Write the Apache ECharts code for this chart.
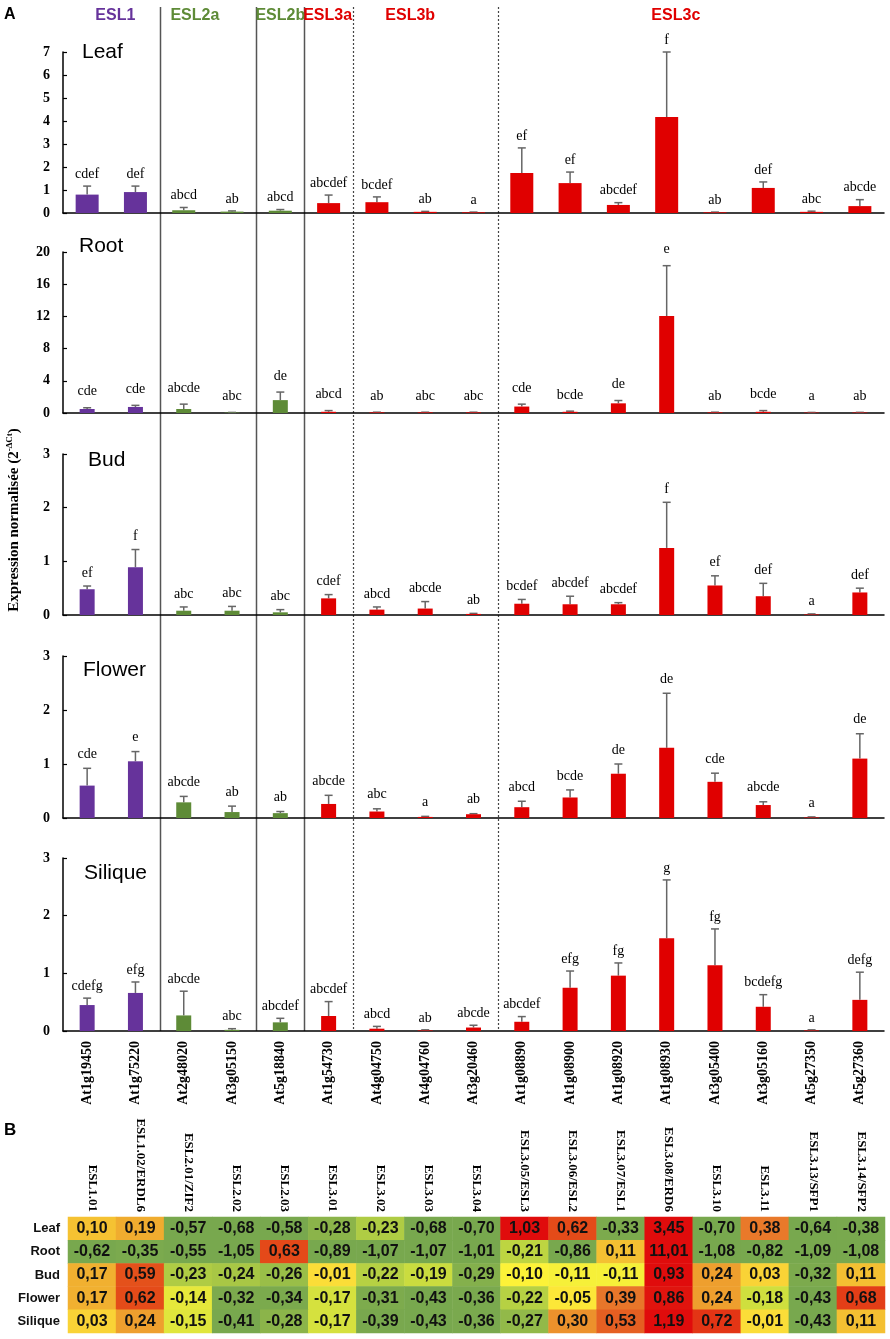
<!DOCTYPE html>
<html>
<head>
<meta charset="utf-8">
<script src="https://cdn.jsdelivr.net/npm/echarts@6/dist/echarts.min.js"></script>
<style>
  html, body { margin: 0; padding: 0; background: #fff; }
  #main { width: 890px; height: 1339px; }
</style>
</head>
<body>
<div id="main"></div>
<script>
// genes (x categories) and their families
const genes = ['At1g19450','At1g75220','At2g48020','At3g05150','At5g18840','At1g54730','At4g04750','At4g04760','At3g20460',
  'At1g08890','At1g08900','At1g08920','At1g08930','At3g05400','At3g05160','At5g27350','At5g27360'];
const eslNames = ['ESL1.01','ESL1.02/ERDL6','ESL2.01/ZIF2','ESL2.02','ESL2.03','ESL3.01','ESL3.02','ESL3.03','ESL3.04',
  'ESL3.05/ESL3','ESL3.06/ESL2','ESL3.07/ESL1','ESL3.08/ERD6','ESL3.10','ESL3.11','ESL3.13/SFP1','ESL3.14/SFP2'];
const groupNames = ['ESL1','ESL2a','ESL2b','ESL3a','ESL3b','ESL3c'];
const geneGroup = [0,0,1,1,2,3,4,4,4,5,5,5,5,5,5,5,5];
const sepAfter = [1,3,4,5,8];
const sepSolid = [true,true,true,false,false];

const tissues = ['Leaf','Root','Bud','Flower','Silique'];
const yMax = [7,20,3,3,3];
const yStep = [1,4,1,1,1];

// panel A : mean and sd (2^-dCt)
const leafMean = [0.80,0.91,0.12,0.06,0.10,0.43,0.47,0.05,0.03,1.74,1.30,0.35,4.17,0.03,1.09,0.05,0.30];
const leafSd   = [0.37,0.26,0.12,0.03,0.05,0.35,0.23,0.02,0.01,1.09,0.48,0.10,2.83,0.01,0.26,0.03,0.28];
const leafLetters = ['cdef','def','abcd','ab','abcd','abcdef','bcdef','ab','a','ef','ef','abcdef','f','ab','def','abc','abcde'];

const rootMean = [0.50,0.75,0.50,0.05,1.60,0.15,0.08,0.08,0.08,0.80,0.15,1.20,12.05,0.08,0.15,0.05,0.06];
const rootSd   = [0.15,0.20,0.60,0.02,1.00,0.15,0.02,0.02,0.02,0.30,0.08,0.35,6.25,0.02,0.15,0.02,0.02];
const rootLetters = ['cde','cde','abcde','abc','de','abcd','ab','abc','abc','cde','bcde','de','e','ab','bcde','a','ab'];

const budMean = [0.48,0.89,0.08,0.08,0.05,0.31,0.10,0.12,0.02,0.21,0.20,0.20,1.25,0.55,0.35,0.01,0.42];
const budSd   = [0.06,0.33,0.07,0.08,0.05,0.07,0.05,0.13,0.01,0.08,0.15,0.03,0.85,0.18,0.24,0.01,0.08];
const budLetters = ['ef','f','abc','abc','abc','cdef','abcd','abcde','ab','bcdef','abcdef','abcdef','f','ef','def','a','def'];

const flowerMean = [0.60,1.05,0.29,0.11,0.09,0.26,0.12,0.02,0.07,0.20,0.38,0.82,1.30,0.67,0.24,0.01,1.10];
const flowerSd   = [0.32,0.18,0.11,0.11,0.03,0.16,0.05,0.01,0.01,0.11,0.14,0.18,1.01,0.16,0.06,0.01,0.46];
const flowerLetters = ['cde','e','abcde','ab','ab','abcde','abc','a','ab','abcd','bcde','de','de','cde','abcde','a','de'];

const siliqueMean = [0.45,0.66,0.27,0.02,0.15,0.26,0.04,0.01,0.06,0.16,0.75,0.96,1.61,1.14,0.42,0.01,0.54];
const siliqueSd   = [0.12,0.19,0.42,0.02,0.07,0.25,0.04,0.01,0.04,0.09,0.29,0.22,1.01,0.63,0.21,0.01,0.48];
const siliqueLetters = ['cdefg','efg','abcde','abc','abcdef','abcdef','abcd','ab','abcde','abcdef','efg','fg','g','fg','bcdefg','a','defg'];

// panel B : heatmap values (rows = tissues)
const heatLeaf    = [0.10,0.19,-0.57,-0.68,-0.58,-0.28,-0.23,-0.68,-0.70,1.03,0.62,-0.33,3.45,-0.70,0.38,-0.64,-0.38];
const heatRoot    = [-0.62,-0.35,-0.55,-1.05,0.63,-0.89,-1.07,-1.07,-1.01,-0.21,-0.86,0.11,11.01,-1.08,-0.82,-1.09,-1.08];
const heatBud     = [0.17,0.59,-0.23,-0.24,-0.26,-0.01,-0.22,-0.19,-0.29,-0.10,-0.11,-0.11,0.93,0.24,0.03,-0.32,0.11];
const heatFlower  = [0.17,0.62,-0.14,-0.32,-0.34,-0.17,-0.31,-0.43,-0.36,-0.22,-0.05,0.39,0.86,0.24,-0.18,-0.43,0.68];
const heatSilique = [0.03,0.24,-0.15,-0.41,-0.28,-0.17,-0.39,-0.43,-0.36,-0.27,0.30,0.53,1.19,0.72,-0.01,-0.43,0.11];

const means = [leafMean, rootMean, budMean, flowerMean, siliqueMean];
const sds = [leafSd, rootSd, budSd, flowerSd, siliqueSd];
const letters = [leafLetters, rootLetters, budLetters, flowerLetters, siliqueLetters];
const heatRows = [heatLeaf, heatRoot, heatBud, heatFlower, heatSilique];

// layout / style
const groupColors = ['#66339b','#5e8b37','#5e8b37','#e00000','#e00000','#e00000'];
const groupShift = [4,-13,0,-1,-15,-15];
const panelTop = [52,252,454,656,858];
const panelHeight = [161,161,161,162,173];
const barWidth = [23,15,15,15,15];
const letterGap = [12,16,13,14,12];
const titlePos = [[82,52],[79,246],[88,460],[83,670],[84,873]];
const serif = "'Liberation Serif','Times New Roman',serif";
const sans = "'Liberation Sans',Arial,sans-serif";

const chart = echarts.init(document.getElementById('main'));

const grids = [], xAxes = [], yAxes = [], series = [];
tissues.forEach(function (t, k) {
  const last = k === tissues.length - 1;
  grids.push({ left: 63, width: 821, top: panelTop[k], height: panelHeight[k] });
  xAxes.push({
    type: 'category', gridIndex: k, data: genes,
    axisLine: { lineStyle: { color: '#000', width: 1.5 } },
    axisTick: { inside: true, length: 4, lineStyle: { color: '#000', width: 1.2 } },
    axisLabel: { show: last, rotate: 90, margin: 10, interval: 0, color: '#000',
      fontFamily: serif, fontWeight: 'bold', fontSize: 14 }
  });
  yAxes.push({
    type: 'value', gridIndex: k, min: 0, max: yMax[k], interval: yStep[k],
    splitLine: { show: false },
    axisLine: { show: true, lineStyle: { color: '#000', width: 1.5 } },
    axisTick: { show: true, inside: true, length: 4, lineStyle: { color: '#000', width: 1.2 } },
    axisLabel: { margin: 13, color: '#000', fontFamily: serif, fontWeight: 'bold', fontSize: 14 }
  });
  series.push({
    type: 'bar', xAxisIndex: k, yAxisIndex: k, barWidth: barWidth[k],
    data: means[k].map(function (v, i) { return { value: v, itemStyle: { color: groupColors[geneGroup[i]] } }; }),
    silent: true, animation: false
  });
  series.push({
    type: 'custom', xAxisIndex: k, yAxisIndex: k, animation: false, silent: true,
    data: means[k].map(function (v, i) { return [i, v, sds[k][i]]; }),
    renderItem: function (params, api) {
      const i = api.value(0);
      const base = api.coord([i, api.value(1)]);
      const top = api.coord([i, api.value(1) + api.value(2)]);
      const x = base[0];
      return {
        type: 'group',
        children: [
          { type: 'line', shape: { x1: x, y1: base[1], x2: x, y2: top[1] },
            style: { stroke: '#666', lineWidth: 1.5 } },
          { type: 'line', shape: { x1: x - 4, y1: top[1], x2: x + 4, y2: top[1] },
            style: { stroke: '#666', lineWidth: 1.5 } },
          { type: 'text', style: { text: letters[k][params.dataIndex], x: x, y: top[1] - letterGap[k],
            align: 'center', verticalAlign: 'middle', fontFamily: serif, fontSize: 14, fill: '#000' } }
        ]
      };
    }
  });
});

// heatmap
const hk = tissues.length;
grids.push({ left: 68, width: 817, top: 1217, height: 116 });
xAxes.push({
  type: 'category', gridIndex: hk, data: eslNames, position: 'top',
  axisLine: { show: false }, axisTick: { show: false }, splitLine: { show: false },
  axisLabel: { rotate: 90, margin: 5, interval: 0, color: '#000', fontFamily: serif, fontWeight: 'bold', fontSize: 13 }
});
yAxes.push({
  type: 'category', gridIndex: hk, data: tissues, inverse: true,
  axisLine: { show: false }, axisTick: { show: false }, splitLine: { show: false },
  axisLabel: { margin: 8, color: '#111', fontFamily: sans, fontWeight: 'bold', fontSize: 13 }
});
const heatData = [];
heatRows.forEach(function (row, r) {
  row.forEach(function (v, c) { heatData.push([c, r, v]); });
});
series.push({
  type: 'heatmap', xAxisIndex: hk, yAxisIndex: hk, data: heatData, animation: false,
  label: { show: true, color: '#111', fontFamily: sans, fontWeight: 'bold', fontSize: 16,
    formatter: function (p) { return p.value[2].toFixed(2).replace('.', ','); } }
});

chart.setOption({
  animation: false,
  grid: grids, xAxis: xAxes, yAxis: yAxes, series: series,
  visualMap: {
    type: 'continuous', show: false, seriesIndex: series.length - 1, dimension: 2,
    min: -0.4, max: 0.9,
    inRange: { color: ['#78a84e','#7dab4d','#c4da40','#fcf238','#fbdb38','#f5c232','#efa92f',
      '#ec912c','#e8732a','#e66626','#e44f1a','#e33a16','#e12010','#e00c0c'] }
  }
});

// separators, group labels and panel titles placed from the axis scale
const cx = genes.map(function (g, i) { return chart.convertToPixel({ xAxisIndex: 0 }, i); });
const yEnd = chart.convertToPixel({ yAxisIndex: hk - 1 }, 0);
const graphic = [];
sepAfter.forEach(function (i, n) {
  const x = Math.round((cx[i] + cx[i + 1]) / 2) + 0.5;
  graphic.push({ type: 'line', silent: true,
    shape: { x1: x, y1: 7, x2: x, y2: yEnd },
    style: { stroke: sepSolid[n] ? '#555' : '#444', lineWidth: sepSolid[n] ? 1.5 : 1.2,
      lineDash: sepSolid[n] ? null : [2, 2] } });
});
groupNames.forEach(function (name, g) {
  const idx = [];
  geneGroup.forEach(function (gg, i) { if (gg === g) idx.push(cx[i]); });
  const x = (Math.min.apply(null, idx) + Math.max.apply(null, idx)) / 2 + groupShift[g];
  graphic.push({ type: 'text', silent: true,
    style: { text: name, x: x, y: 16, align: 'center', verticalAlign: 'middle',
      fontFamily: sans, fontWeight: 'bold', fontSize: 16, fill: groupColors[g] } });
});
tissues.forEach(function (t, k) {
  graphic.push({ type: 'text', silent: true,
    style: { text: t, x: titlePos[k][0], y: titlePos[k][1], align: 'left', verticalAlign: 'middle',
      fontFamily: sans, fontSize: 21, fill: '#000' } });
});
graphic.push({ type: 'text', silent: true,
  style: { text: 'A', x: 4, y: 15, verticalAlign: 'middle', fontFamily: sans, fontWeight: 'bold', fontSize: 16, fill: '#000' } });
graphic.push({ type: 'text', silent: true,
  style: { text: 'B', x: 4, y: 1130, verticalAlign: 'middle', fontFamily: sans, fontWeight: 'bold', fontSize: 17, fill: '#000' } });
graphic.push({ type: 'text', silent: true, x: 14, y: 520, rotation: Math.PI / 2,
  style: { text: '{n|Expression normalisée (2}{s|-ΔCt}{n|)}', align: 'center', verticalAlign: 'middle',
    rich: { n: { fontFamily: serif, fontWeight: 'bold', fontSize: 15, fill: '#000' },
            s: { fontFamily: serif, fontWeight: 'bold', fontSize: 9, fill: '#000', verticalAlign: 'top', padding: [0, 0, 8, 0] } } } });
chart.setOption({ graphic: graphic });
</script>
</body>
</html>
